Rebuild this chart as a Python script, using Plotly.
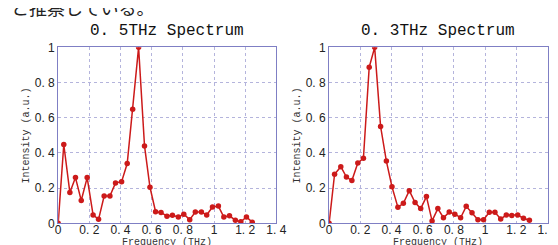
import plotly.graph_objects as go

# ---- data ----
freq_05 = [0.0, 0.036, 0.075, 0.111, 0.148, 0.186, 0.224, 0.259, 0.295, 0.332,
           0.368, 0.407, 0.443, 0.478, 0.516, 0.554, 0.589, 0.625, 0.660, 0.698,
           0.733, 0.771, 0.806, 0.844, 0.880, 0.919, 0.953, 0.990, 1.028, 1.063,
           1.099, 1.137, 1.172, 1.208, 1.245]
int_05 = [0.0, 0.448, 0.175, 0.26, 0.13, 0.26, 0.048, 0.023, 0.155, 0.155,
          0.23, 0.237, 0.34, 0.648, 1.0, 0.44, 0.205, 0.066, 0.062, 0.041,
          0.046, 0.036, 0.052, 0.021, 0.064, 0.064, 0.048, 0.093, 0.098, 0.036,
          0.043, 0.018, 0.009, 0.036, 0.007]

freq_03 = [0.0, 0.035, 0.075, 0.111, 0.146, 0.184, 0.220, 0.257, 0.292, 0.330,
           0.367, 0.403, 0.441, 0.476, 0.514, 0.551, 0.587, 0.624, 0.660, 0.697,
           0.733, 0.770, 0.806, 0.843, 0.879, 0.916, 0.954, 0.990, 1.027, 1.063,
           1.100, 1.136, 1.171, 1.209, 1.246, 1.284]
int_03 = [0.0, 0.279, 0.322, 0.263, 0.243, 0.343, 0.370, 0.887, 1.0, 0.551,
          0.354, 0.208, 0.091, 0.114, 0.186, 0.118, 0.084, 0.152, 0.014, 0.084,
          0.032, 0.064, 0.052, 0.032, 0.097, 0.061, 0.021, 0.021, 0.063, 0.063,
          0.025, 0.047, 0.045, 0.047, 0.029, 0.018]

titles = ["0. 5THz Spectrum", "0. 3THz Spectrum"]
x_tickvals = [0, 0.2, 0.4, 0.6, 0.8, 1.0, 1.2, 1.4]
x_ticktext = ["0", "0. 2", "0. 4", "0. 6", "0. 8", "1", "1. 2", "1. 4"]
y_tickvals = [0, 0.2, 0.4, 0.6, 0.8, 1.0]
y_ticktext = ["0", "0. 2", "0. 4", "0. 6", "0. 8", "1"]
x_label = "Frequency (THz)"
y_label = "Intensity (a.u.)"
caption = "と推察している。"

W, H = 558, 245
LINE = "#cc1a1a"
AXC = "#7f7fc4"
GRID = "#b4b4dc"
FONT = "Liberation Mono"
TICKFONT = "Liberation Sans"

fig = go.Figure()
fig.add_trace(go.Scatter(x=freq_05, y=int_05, mode="lines+markers", xaxis="x", yaxis="y",
                         line=dict(color=LINE, width=1.5), marker=dict(color=LINE, size=5.5),
                         showlegend=False))
fig.add_trace(go.Scatter(x=freq_03, y=int_03, mode="lines+markers", xaxis="x2", yaxis="y2",
                         line=dict(color=LINE, width=1.5), marker=dict(color=LINE, size=5.5),
                         showlegend=False))

x_domains = [[48.3 / W, 271.7 / W], [325.7 / W, 549.3 / W]]
y_domain = [(H - 221) / H, (H - 34.3) / H]

common_x = dict(range=[0, 1.4], tickvals=x_tickvals, ticktext=x_ticktext,
                showgrid=True, gridcolor=GRID, griddash="dot", gridwidth=1,
                showline=True, linecolor=AXC, linewidth=1, mirror=True,
                zeroline=False, ticks="", ticklen=0, ticklabelstandoff=-5,
                tickfont=dict(family=TICKFONT, size=12, color="#222"))
common_y = dict(range=[0, 1], tickvals=y_tickvals, ticktext=y_ticktext,
                showgrid=True, gridcolor=GRID, griddash="dot", gridwidth=1,
                showline=True, linecolor=AXC, linewidth=1, mirror=True,
                zeroline=False, ticks="", ticklen=0,
                tickfont=dict(family=TICKFONT, size=12, color="#222"))

fig.update_layout(
    width=W, height=H,
    margin=dict(l=0, r=0, t=0, b=0),
    paper_bgcolor="white", plot_bgcolor="white",
    xaxis=dict(domain=x_domains[0], anchor="y", **common_x),
    yaxis=dict(domain=y_domain, anchor="x", **common_y),
    xaxis2=dict(domain=x_domains[1], anchor="y2", **common_x),
    yaxis2=dict(domain=y_domain, anchor="x2", **common_y),
)

ann = []
for i, t in enumerate(titles):
    cx = (x_domains[i][0] + x_domains[i][1]) / 2
    ann.append(dict(text=t, x=cx, y=(H - 17) / H, xref="paper", yref="paper",
                    xanchor="center", yanchor="middle", showarrow=False,
                    font=dict(family=FONT, size=16, color="#111")))
    ann.append(dict(text=x_label, x=cx, y=(H - 241) / H, xref="paper", yref="paper",
                    xanchor="center", yanchor="middle", showarrow=False,
                    font=dict(family=FONT, size=10, color="#333")))
    ann.append(dict(text=y_label, x=(x_domains[i][0] * W - 32) / W, y=(H - 128) / H,
                    xref="paper", yref="paper", xanchor="center", yanchor="middle",
                    textangle=-90, showarrow=False,
                    font=dict(family=FONT, size=10, color="#333")))
ann.append(dict(text=caption, x=-2 / W, y=(H + 8) / H, xref="paper", yref="paper",
                xanchor="left", yanchor="middle", showarrow=False,
                font=dict(family="Noto Sans CJK JP", size=18, color="#222")))
fig.update_layout(annotations=ann)

fig.write_html("out.html")
